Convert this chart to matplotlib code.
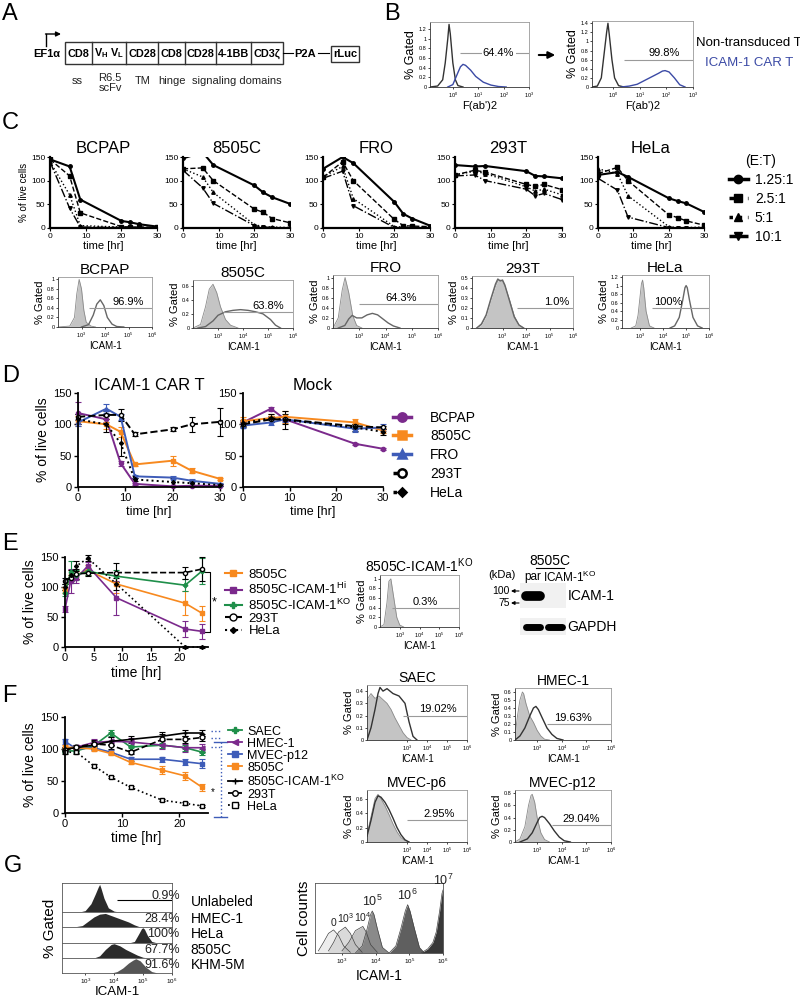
import numpy as np
import matplotlib
matplotlib.use('Agg')
import matplotlib.pyplot as plt
from matplotlib.lines import Line2D
from matplotlib.patches import Rectangle
from matplotlib.ticker import NullLocator

plt.rcParams['font.family'] = ['Liberation Sans', 'DejaVu Sans']
plt.rcParams['mathtext.default'] = 'regular'

PURPLE = '#7b2a8c'
ORANGE = '#f7891f'
BLUE = '#3e5cb8'
GREEN = '#1f8f4a'
CAR_BLUE = '#3b4aa5'
FILL = '#c4c4c4'

# ---------------- data ----------------
# A: construct
a_segments = ['CD8', 'V$_H$ V$_L$', 'CD28', 'CD8', 'CD28', '4-1BB', 'CD3ζ']
a_notes = ['ss', 'R6.5\nscFv', 'TM', 'hinge', 'signaling domains']

# B: F(ab')2 staining (log10 intensity, % gated)
b_pre_nt_x = [-0.9, -0.6, -0.4, -0.3, -0.2, -0.15, -0.1, 0.0, 0.1, 0.2, 0.4]
b_pre_nt_y = [0, 0.02, 0.15, 0.5, 1.0, 1.3, 1.1, 0.5, 0.15, 0.03, 0]
b_pre_car_x = [-0.2, 0.0, 0.2, 0.3, 0.4, 0.5, 0.7, 0.9, 1.2, 1.5, 1.8, 2.1]
b_pre_car_y = [0, 0.05, 0.3, 0.42, 0.47, 0.45, 0.35, 0.22, 0.1, 0.04, 0.01, 0]
b_post_nt_x = [-0.8, -0.6, -0.45, -0.35, -0.25, -0.2, -0.15, -0.05, 0.05, 0.2, 0.4]
b_post_nt_y = [0, 0.02, 0.2, 0.7, 1.2, 1.4, 1.15, 0.6, 0.2, 0.03, 0]
b_post_car_x = [0.3, 0.6, 0.9, 1.1, 1.3, 1.5, 1.7, 1.85, 1.95, 2.1, 2.3, 2.5, 2.7]
b_post_car_y = [0, 0.02, 0.06, 0.12, 0.18, 0.24, 0.3, 0.35, 0.36, 0.33, 0.2, 0.05, 0]
b_pct = ['64.4%', '99.8%']

# C: E:T titration killing
c_time = [0, 5.5, 8.5, 20, 22.5, 25, 30]
c_ratios = ['1.25:1', '2.5:1', '5:1', '10:1']
c_cells = ['BCPAP', '8505C', 'FRO', '293T', 'HeLa']
c_bcpap = [[145, 130, 60, 15, 12, 8, 3], [145, 110, 32, 3, 2, 2, 2],
           [140, 70, 5, 2, 1, 1, 1], [140, 42, 2, 1, 1, 0, 0]]
c_8505c = [[147, 160, 133, 90, 75, 65, 51], [125, 127, 100, 40, 33, 20, 11],
           [125, 108, 75, 7, 3, 2, 1], [122, 85, 52, 5, 2, 1, 0]]
c_fro = [[125, 150, 137, 55, 30, 20, 5], [107, 140, 100, 18, 5, 4, 3],
         [108, 130, 62, 3, 2, 2, 1], [105, 120, 47, 1, 1, 1, 0]]
c_293t = [[133, 130, 131, 120, 110, 109, 105], [112, 122, 118, 92, 88, 92, 81],
          [112, 120, 115, 87, 78, 82, 70], [110, 112, 100, 82, 68, 73, 60]]
c_hela = [[112, 118, 108, 63, 57, 52, 34], [115, 128, 100, 28, 22, 15, 6],
          [125, 115, 68, 3, 1, 1, 2], [105, 80, 23, 1, 0, 0, 1]]
c_kill = [c_bcpap, c_8505c, c_fro, c_293t, c_hela]

# C: ICAM-1 histograms (log10 x, % gated)
ch_pct = ['96.9%', '63.8%', '64.3%', '1.0%', '100%']
ch_ctrl_x = [[2.0, 2.5, 2.7, 2.8, 2.9, 3.0, 3.1, 3.2, 3.4, 3.6],
             [2.0, 2.3, 2.5, 2.65, 2.8, 2.95, 3.1, 3.3, 3.5, 3.8],
             [2.0, 2.2, 2.35, 2.46, 2.6, 2.75, 2.9, 3.1],
             [1.9, 2.1, 2.3, 2.5, 2.7, 2.8, 2.9, 3.0, 3.1, 3.3, 3.5, 3.7, 3.9],
             [2.6, 2.8, 2.9, 3.0, 3.05, 3.1, 3.15, 3.25, 3.4, 3.6]]
ch_ctrl_y = [[0, 0.02, 0.2, 0.7, 1.0, 0.8, 0.35, 0.1, 0.02, 0],
             [0, 0.05, 0.3, 0.55, 0.62, 0.5, 0.3, 0.12, 0.04, 0],
             [0, 0.2, 0.75, 1.0, 0.7, 0.25, 0.05, 0],
             [0, 0.03, 0.12, 0.28, 0.42, 0.47, 0.48, 0.47, 0.42, 0.28, 0.12, 0.03, 0],
             [0, 0.05, 0.3, 0.8, 1.05, 1.13, 0.95, 0.4, 0.05, 0]]
ch_stain_x = [[3.0, 3.3, 3.5, 3.65, 3.8, 3.95, 4.1, 4.3, 4.5, 4.8],
              [2.2, 2.5, 2.8, 3.0, 3.3, 3.6, 3.9, 4.2, 4.5, 4.8, 5.1, 5.3, 5.5],
              [2.2, 2.45, 2.6, 2.73, 2.9, 3.1, 3.3, 3.5, 3.7, 3.9, 4.1, 4.3, 4.55],
              [1.9, 2.1, 2.3, 2.5, 2.7, 2.8, 2.9, 3.0, 3.1, 3.3, 3.5, 3.7, 3.9],
              [4.3, 4.5, 4.7, 4.85, 4.95, 5.0, 5.05, 5.15, 5.3, 5.5, 5.7]]
ch_stain_y = [[0, 0.05, 0.25, 0.48, 0.57, 0.45, 0.2, 0.06, 0.01, 0],
              [0, 0.02, 0.1, 0.18, 0.23, 0.25, 0.26, 0.25, 0.23, 0.2, 0.12, 0.04, 0],
              [0, 0.05, 0.18, 0.25, 0.2, 0.2, 0.26, 0.29, 0.26, 0.18, 0.1, 0.04, 0],
              [0, 0.04, 0.13, 0.29, 0.44, 0.49, 0.47, 0.48, 0.43, 0.27, 0.11, 0.03, 0],
              [0, 0.05, 0.25, 0.65, 0.95, 1.0, 0.95, 0.65, 0.25, 0.05, 0]]
ch_gate = [0.4, 0.23, 0.47, 0.2, 0.47]

# D: killing by ICAM-1 CAR T vs mock
d_cells = ['BCPAP', '8505C', 'FRO', '293T', 'HeLa']
d_time_car = [0, 6, 9, 12, 20, 24, 30]
d_car = [[118, 108, 38, 5, 1, 2, 2], [105, 100, 88, 36, 42, 26, 13],
         [103, 125, 112, 17, 15, 10, 5], [112, 115, 115, 84, 92, 100, 104],
         [108, 100, 70, 12, 8, 6, 3]]
d_car_err = [[18, 5, 4, 2, 1, 1, 1], [8, 8, 8, 3, 8, 4, 2], [5, 7, 5, 2, 2, 2, 1],
             [5, 6, 10, 3, 3, 12, 22], [8, 13, 20, 3, 7, 3, 2]]
d_time_mock = [0, 6, 9, 24, 30]
d_mock = [[103, 125, 108, 69, 61], [105, 110, 112, 103, 90], [98, 103, 108, 93, 95],
          [100, 108, 108, 97, 95], [102, 110, 107, 95, 88]]
d_mock_err = [[3, 3, 3, 2, 2], [7, 7, 10, 5, 4], [4, 4, 5, 5, 5], [4, 5, 8, 4, 3], [5, 6, 15, 5, 5]]

# E: 8505C variants
e_time = [0, 1, 2, 4, 9, 21, 24]
e_lines = ['8505C', '8505C-ICAM-1$^{Hi}$', '8505C-ICAM-1$^{KO}$', '293T', 'HeLa']
e_vals = [[95, 120, 120, 128, 105, 73, 56], [63, 110, 115, 135, 82, 30, 26],
          [90, 125, 120, 126, 118, 103, 127], [110, 115, 122, 123, 124, 124, 130],
          [100, 120, 135, 148, 105, 0, 0]]
e_err = [[5, 8, 6, 8, 15, 20, 12], [5, 20, 8, 6, 28, 13, 13], [5, 18, 8, 6, 10, 10, 22],
         [5, 5, 8, 5, 16, 10, 20], [5, 8, 8, 5, 10, 1, 1]]
e_ko_x = [2.0, 2.2, 2.35, 2.45, 2.55, 2.7, 2.85, 3.0, 3.2]
e_ko_y = [0, 0.05, 0.5, 0.95, 1.0, 0.6, 0.2, 0.04, 0]
blot_lanes = ['par', 'ICAM-1$^{KO}$']
blot_icam1 = [1.0, 0.0]
blot_gapdh = [1.0, 1.0]

# F: normal endothelial / epithelial cells
f_time = [0, 2, 5, 8, 11.5, 17, 21, 24]
f_lines = ['SAEC', 'HMEC-1', 'MVEC-p12', '8505C', '8505C-ICAM-1$^{KO}$', '293T', 'HeLa']
f_vals = [[97, 97, 105, 125, 103, 106, 102, 95], [100, 103, 110, 112, 111, 106, 102, 102],
          [112, 100, 102, 95, 84, 84, 80, 77], [103, 102, 100, 93, 79, 67, 58, 40],
          [100, 102, 106, 112, 115, 120, 125, 125], [98, 103, 108, 106, 95, 115, 115, 118],
          [95, 95, 74, 56, 40, 20, 15, 11]]
f_err = [[4, 4, 4, 4, 4, 4, 5, 5], [3, 3, 5, 6, 6, 6, 6, 6], [4, 3, 3, 3, 3, 4, 5, 7],
         [3, 3, 3, 3, 3, 6, 6, 6], [3, 3, 6, 6, 6, 6, 5, 5], [3, 3, 6, 6, 3, 8, 6, 6],
         [3, 3, 2, 2, 2, 2, 2, 2]]
fh_names = ['SAEC', 'HMEC-1', 'MVEC-p6', 'MVEC-p12']
fh_pct = ['19.02%', '19.63%', '2.95%', '29.04%']
fh_gate = [0.2, 0.2, 0.3, 0.27]
fh_ctrl_x = [[1.0, 1.2, 1.4, 1.6, 1.8, 2.0, 2.2, 2.4, 2.6, 2.8, 3.0, 3.2],
             [2.1, 2.2, 2.3, 2.4, 2.45, 2.55, 2.7, 2.85, 3.0, 3.15, 3.3, 3.5],
             [1.0, 1.2, 1.4, 1.55, 1.7, 1.9, 2.1, 2.3, 2.5, 2.7, 2.9, 3.1],
             [2.1, 2.3, 2.5, 2.65, 2.75, 2.8, 2.9, 3.0, 3.15, 3.3, 3.5]]
fh_ctrl_y = [[0.33, 0.38, 0.34, 0.36, 0.33, 0.30, 0.25, 0.18, 0.12, 0.06, 0.02, 0],
             [0.05, 0.3, 0.5, 0.6, 0.58, 0.45, 0.3, 0.22, 0.12, 0.05, 0.01, 0],
             [0.1, 0.35, 0.6, 0.66, 0.6, 0.5, 0.38, 0.25, 0.14, 0.06, 0.02, 0],
             [0, 0.05, 0.25, 0.6, 0.76, 0.78, 0.65, 0.4, 0.15, 0.04, 0]]
fh_stain_x = [[1.0, 1.2, 1.4, 1.55, 1.65, 1.8, 2.0, 2.3, 2.6, 2.9, 3.1, 3.3, 3.5],
              [2.1, 2.3, 2.5, 2.7, 2.85, 2.95, 3.05, 3.2, 3.4, 3.6, 3.8, 4.05],
              [1.0, 1.2, 1.4, 1.55, 1.7, 1.9, 2.1, 2.3, 2.5, 2.7, 2.9, 3.1],
              [2.3, 2.6, 2.8, 3.0, 3.1, 3.2, 3.3, 3.5, 3.7, 3.9, 4.1, 4.35]]
fh_stain_y = [[0, 0.1, 0.25, 0.38, 0.43, 0.4, 0.42, 0.38, 0.36, 0.3, 0.15, 0.03, 0],
              [0, 0.05, 0.15, 0.3, 0.4, 0.42, 0.38, 0.28, 0.15, 0.07, 0.02, 0],
              [0.08, 0.3, 0.55, 0.64, 0.62, 0.55, 0.45, 0.33, 0.2, 0.1, 0.03, 0],
              [0, 0.05, 0.15, 0.32, 0.4, 0.42, 0.4, 0.3, 0.18, 0.08, 0.02, 0]]

# G: ICAM-1 levels and bead standards
g_rows = ['Unlabeled', 'HMEC-1', 'HeLa', '8505C', 'KHM-5M']
g_pct = ['0.9%', '28.4%', '100%', '67.7%', '91.6%']
g_x = [[2.8, 3.0, 3.2, 3.35, 3.45, 3.5, 3.55, 3.65, 3.8, 4.0, 4.2],
       [2.6, 2.9, 3.1, 3.3, 3.5, 3.7, 3.9, 4.1, 4.3, 4.5, 4.7, 4.9],
       [4.5, 4.7, 4.85, 4.95, 5.0, 5.05, 5.15, 5.3, 5.5],
       [3.3, 3.5, 3.7, 3.9, 4.0, 4.2, 4.4, 4.6, 4.8, 5.0, 5.2],
       [3.9, 4.1, 4.3, 4.5, 4.65, 4.75, 4.9, 5.1, 5.3, 5.5]]
g_y = [[0, 0.05, 0.3, 0.65, 0.9, 1.0, 0.85, 0.5, 0.15, 0.03, 0],
       [0, 0.1, 0.4, 0.7, 0.9, 0.95, 0.8, 0.65, 0.5, 0.35, 0.15, 0],
       [0, 0.1, 0.6, 0.95, 1.0, 0.9, 0.5, 0.1, 0],
       [0, 0.15, 0.6, 0.95, 1.0, 0.85, 0.6, 0.4, 0.2, 0.05, 0],
       [0, 0.1, 0.35, 0.7, 0.9, 1.0, 0.85, 0.4, 0.1, 0]]
bead_labels = ['0', '10$^3$', '10$^4$', '10$^5$', '10$^6$', '10$^7$']
bead_x = [[2.3, 2.45, 2.6, 2.75, 2.9, 3.05, 3.25],
          [2.6, 2.75, 2.9, 3.1, 3.25, 3.4, 3.6],
          [3.0, 3.2, 3.4, 3.62, 3.72, 3.85, 4.05],
          [3.4, 3.6, 3.75, 3.85, 3.9, 3.95, 4.05, 4.2, 4.4],
          [4.4, 4.6, 4.75, 4.88, 4.95, 5.02, 5.15, 5.3, 5.45],
          [5.35, 5.55, 5.7, 5.8, 5.9, 5.97, 6.0]]
bead_y = [[0.03, 0.15, 0.28, 0.33, 0.25, 0.1, 0.01],
          [0.03, 0.15, 0.3, 0.37, 0.28, 0.12, 0.01],
          [0.03, 0.15, 0.32, 0.38, 0.3, 0.12, 0.01],
          [0, 0.1, 0.35, 0.55, 0.6, 0.55, 0.35, 0.08, 0],
          [0, 0.1, 0.35, 0.6, 0.69, 0.6, 0.35, 0.08, 0],
          [0, 0.06, 0.15, 0.3, 0.6, 0.85, 0.9]]
bead_colors = ['#ececec', '#d6d6d6', '#bdbdbd', '#7d7d7d', '#4d4d4d', '#222222']

# ---------------- layout helpers ----------------
W, H = 800, 996
fig = plt.figure(figsize=(8, 9.96), dpi=100)
canvas = fig.add_axes([0, 0, 1, 1])
canvas.set_xlim(0, W)
canvas.set_ylim(H, 0)
canvas.axis('off')


def box(l, t, r, b):
    return fig.add_axes([l / W, 1 - b / H, (r - l) / W, (b - t) / H])


def px(x, y):
    return (x / W, 1 - y / H)


def flow_axes(rect, xlo, xhi, ymax, yticks, title=None, tsize=10, xlabel='ICAM-1', ylabel='% Gated', lsize=7):
    ax = box(*rect)
    ax.set_xscale('log')
    ax.set_xlim(10 ** xlo, 10 ** xhi)
    ax.set_ylim(0, ymax)
    ax.xaxis.set_minor_locator(NullLocator())
    ax.set_yticks(yticks)
    ax.set_yticklabels([f'{v:g}' for v in yticks])
    ax.tick_params(labelsize=4, length=1.5, width=0.5, pad=1)
    for s in ax.spines.values():
        s.set_color('#999999')
        s.set_linewidth(0.6)
    ax.spines['left'].set_color('#333333')
    ax.spines['bottom'].set_color('#333333')
    if title:
        ax.set_title(title, fontsize=tsize, pad=2)
    if xlabel:
        ax.set_xlabel(xlabel, fontsize=lsize, labelpad=1)
    if ylabel:
        ax.set_ylabel(ylabel, fontsize=lsize + 1, labelpad=1)
    return ax


def draw_hist(ax, x, y, filled, color='#444444'):
    xs = 10 ** np.asarray(x)
    if filled:
        ax.fill_between(xs, y, color=FILL, lw=0)
        ax.plot(xs, y, color='#8a8a8a', lw=0.6)
    else:
        ax.plot(xs, y, color=color, lw=1.0)


def gate(ax, level, x0, x1, label, lx, size=8, inline=False):
    ax.hlines(level, 10 ** x0, 10 ** x1, color='#9a9a9a', lw=0.8)
    if inline:
        ax.text(10 ** lx, level, label, fontsize=size, ha='center', va='center',
                bbox=dict(fc='white', ec='none', pad=1))
    else:
        ax.text(10 ** lx, level + 0.02 * ax.get_ylim()[1], label, fontsize=size, ha='center', va='bottom')


def time_axes(rect, xlim, xticks, fs=8):
    ax = box(*rect)
    ax.set_xlim(*xlim)
    ax.set_ylim(0, 150)
    ax.spines[['top', 'right']].set_visible(False)
    ax.spines[['left', 'bottom']].set_linewidth(1.3)
    ax.set_xticks(xticks)
    ax.set_yticks([0, 50, 100, 150])
    ax.tick_params(labelsize=fs, width=1, length=3, pad=1.5)
    return ax


def letter(ch, x, y):
    canvas.text(x, y, ch, fontsize=17, ha='left', va='center')


# ---------------- A ----------------
letter('A', 2, 14)
a_edges = [65, 92, 126, 158, 185, 216, 251, 283]
canvas.add_patch(Rectangle((65, 42), 218, 22, fill=False, lw=1.0, ec='#333'))
for i, name in enumerate(a_segments):
    if i > 0:
        canvas.plot([a_edges[i]] * 2, [42, 64], color='#333', lw=1.0)
    canvas.text((a_edges[i] + a_edges[i + 1]) / 2, 53.5, name, fontsize=7.8, fontweight='bold',
                ha='center', va='center')
canvas.plot([46, 46], [46, 34], color='k', lw=1.0)
canvas.annotate('', xy=(61, 34), xytext=(45.5, 34),
                arrowprops=dict(arrowstyle='-|>', lw=1.0, color='k', mutation_scale=7, shrinkA=0, shrinkB=0))
canvas.text(47, 54, 'EF1α', fontsize=8, fontweight='bold', ha='center', va='center')
canvas.plot([283, 293], [53, 53], color='k', lw=0.8)
canvas.text(305, 53.5, 'P2A', fontsize=8, fontweight='bold', ha='center', va='center')
canvas.plot([318, 329], [53, 53], color='k', lw=0.8)
canvas.add_patch(Rectangle((331, 46), 28, 16, fill=False, lw=1.0, ec='#333'))
canvas.text(345, 54, 'rLuc', fontsize=8, fontweight='bold', ha='center', va='center')
for note, xc in zip(a_notes, [77, 110, 143, 172, 237]):
    canvas.text(xc, 83 if '\n' in note else 81, note, fontsize=8, ha='center', va='center',
                linespacing=1.0, color='#222')

# ---------------- B ----------------
letter('B', 384, 14)
axb1 = flow_axes((430, 22, 529, 87), -0.9, 3, 1.35, [0, 0.2, 0.4, 0.6, 0.8, 1.0, 1.2],
                 xlabel="F(ab')2", lsize=8)
axb1.plot(10 ** np.asarray(b_pre_nt_x), b_pre_nt_y, color='#333', lw=1.0)
axb1.plot(10 ** np.asarray(b_pre_car_x), b_pre_car_y, color=CAR_BLUE, lw=1.0)
gate(axb1, 0.7, 0.3, 3, b_pct[0], 1.8, size=8, inline=True)
axb2 = flow_axes((592, 21, 693, 87), -0.8, 3, 1.45, [0, 0.2, 0.4, 0.6, 0.8, 1.0, 1.2, 1.4],
                 xlabel="F(ab')2", lsize=8)
axb2.plot(10 ** np.asarray(b_post_nt_x), b_post_nt_y, color='#333', lw=1.0)
axb2.plot(10 ** np.asarray(b_post_car_x), b_post_car_y, color=CAR_BLUE, lw=1.0)
gate(axb2, 0.6, 0.4, 3, b_pct[1], 1.9, size=8)
canvas.annotate('', xy=(558, 55), xytext=(536, 55),
                arrowprops=dict(arrowstyle='-|>', lw=1.5, color='k', mutation_scale=10))
canvas.text(696, 43, 'Non-transduced T', fontsize=9.5, ha='left', va='center')
canvas.text(705, 63, 'ICAM-1 CAR T', fontsize=9.5, ha='left', va='center', color=CAR_BLUE)

# ---------------- C ----------------
letter('C', 2, 123)
c_rects = [(50, 157, 157, 228), (183, 157, 290, 228), (323, 157, 430, 228),
           (455, 157, 562, 228), (598, 157, 704, 228)]
c_styles = ['-', '--', ':', '-.']
c_markers = ['o', 's', '^', 'v']
for k, (name, rect) in enumerate(zip(c_cells, c_rects)):
    ax = time_axes(rect, (0, 30), [0, 10, 20, 30], fs=6)
    ax.tick_params(length=2, width=0.8)
    ax.spines[['left', 'bottom']].set_linewidth(1.6)
    for j in range(4):
        ax.plot(c_time, c_kill[k][j], color='k', ls=c_styles[j], marker=c_markers[j], ms=2.5,
                lw=1.5 if j == 0 else 1.0)
    ax.set_title(name, fontsize=12, pad=3)
    ax.set_xlabel('time [hr]', fontsize=8, labelpad=1)
    if k == 0:
        ax.set_ylabel('% of live cells', fontsize=7, labelpad=1)
c_handles = [Line2D([], [], color='k', ls=c_styles[j], marker=c_markers[j], ms=6, lw=2.5)
             for j in range(4)]
fig.legend(c_handles, c_ratios, title='(E:T)', loc='upper left', bbox_to_anchor=px(716, 142),
           frameon=False, fontsize=10, title_fontsize=10, handlelength=1.4, labelspacing=0.35,
           handletextpad=0.5)

ch_rects = [(58, 277, 152, 327), (193, 280, 293, 328), (333, 275, 438, 328),
            (472, 276, 573, 328), (622, 275, 709, 328)]
ch_xlo = [2.0, 2.0, 2.0, 1.7, 2.2]
ch_ymax = [1.05, 0.68, 1.05, 0.52, 1.25]
ch_yticks = [[0, 0.2, 0.4, 0.6, 0.8, 1.0], [0, 0.2, 0.4, 0.6], [0, 0.2, 0.4, 0.6, 0.8, 1.0],
             [0, 0.1, 0.2, 0.3, 0.4, 0.5], [0, 0.2, 0.4, 0.6, 0.8, 1.0, 1.2]]
ch_gate_from = [3.3, 3.2, 3.0, 3.6, 3.5]
ch_label_x = [5.0, 5.0, 4.6, 5.3, 4.2]
for k, name in enumerate(c_cells):
    ax = flow_axes(ch_rects[k], ch_xlo[k], 6, ch_ymax[k], ch_yticks[k], title=name, tsize=11)
    ax.set_xticks([1e3, 1e4, 1e5, 1e6])
    draw_hist(ax, ch_ctrl_x[k], ch_ctrl_y[k], True)
    draw_hist(ax, ch_stain_x[k], ch_stain_y[k], False, color='#666')
    gate(ax, ch_gate[k], ch_gate_from[k], 6, ch_pct[k], ch_label_x[k], size=8)

# ---------------- D ----------------
letter('D', 2, 376)
d_colors = [PURPLE, ORANGE, BLUE, 'k', 'k']
d_ls = ['-', '-', '-', '--', ':']
d_mk = ['o', 's', '^', 'o', 'D']
d_mfc = [PURPLE, ORANGE, BLUE, 'white', 'k']
for title, rect, t, vals, errs in [('ICAM-1 CAR T', (78, 393, 220, 487), d_time_car, d_car, d_car_err),
                                   ('Mock', (243, 393, 383, 487), d_time_mock, d_mock, d_mock_err)]:
    ax = time_axes(rect, (0, 30), [0, 10, 20, 30], fs=8)
    for i in range(5):
        ax.errorbar(t, vals[i], yerr=errs[i], color=d_colors[i], ls=d_ls[i], marker=d_mk[i],
                    ms=3 if d_mk[i] != 'D' else 2, mfc=d_mfc[i], mec=d_colors[i], lw=1.4,
                    capsize=2, elinewidth=0.8, capthick=0.8, clip_on=False)
    ax.set_title(title, fontsize=12, pad=2)
    ax.set_xlabel('time [hr]', fontsize=9, labelpad=2)
    if title != 'Mock':
        ax.set_ylabel('% of live cells', fontsize=10, labelpad=2)
d_handles = [Line2D([], [], color=d_colors[i], ls=d_ls[i], marker=d_mk[i], ms=6 if d_mk[i] != 'D' else 4,
                    mfc=d_mfc[i], mec=d_colors[i], mew=1.8, lw=2.5) for i in range(5)]
fig.legend(d_handles, d_cells, loc='upper left', bbox_to_anchor=px(380, 398), frameon=False,
           fontsize=10, handlelength=1.3, labelspacing=0.35, handletextpad=1.4)

# ---------------- E ----------------
letter('E', 2, 544)
e_colors = [ORANGE, PURPLE, GREEN, 'k', 'k']
e_ls = ['-', '-', '-', '--', ':']
e_mk = ['s', 's', 'P', 'o', 'D']
e_mfc = [ORANGE, PURPLE, GREEN, 'white', 'k']
ax = time_axes((65, 557, 208, 647), (0, 25), [0, 5, 10, 15, 20], fs=8)
for i in range(5):
    ax.errorbar(e_time, e_vals[i], yerr=e_err[i], color=e_colors[i], ls=e_ls[i], marker=e_mk[i],
                ms=3 if e_mk[i] != 'D' else 2, mfc=e_mfc[i], mec=e_colors[i], lw=1.2,
                capsize=2, elinewidth=0.8, capthick=0.8, clip_on=False)
ax.plot([23.8, 25.3, 25.3, 23.8], [125, 125, 25, 25], color='k', lw=0.8, clip_on=False)
ax.text(26.0, 75, '*', fontsize=9, ha='center', va='center')
ax.set_xlabel('time [hr]', fontsize=10, labelpad=2)
ax.set_ylabel('% of live cells', fontsize=10, labelpad=2)
e_handles = [Line2D([], [], color=e_colors[i], ls=e_ls[i], marker=e_mk[i], ms=5 if e_mk[i] != 'D' else 3,
                    mfc=e_mfc[i], mec=e_colors[i], lw=1.5) for i in range(5)]
fig.legend(e_handles, e_lines, loc='upper left', bbox_to_anchor=px(222, 566), frameon=False,
           fontsize=9.5, handlelength=1.3, labelspacing=0.0, handletextpad=0.5,
           borderaxespad=0, borderpad=0.2)

ax = flow_axes((380, 575, 459, 627), 2.0, 6, 1.08, [0, 0.2, 0.4, 0.6, 0.8, 1.0],
               title='8505C-ICAM-1$^{KO}$', tsize=10)
ax.set_xticks([1e3, 1e4, 1e5, 1e6])
draw_hist(ax, e_ko_x, e_ko_y, True)
gate(ax, 0.4, 2.6, 6, '0.3%', 4.3, size=8)

# western blot
canvas.text(550, 561, '8505C', fontsize=10, ha='center', va='center')
canvas.plot([536, 564], [568, 568], color='k', lw=0.8)
canvas.text(502, 575, '(kDa)', fontsize=8, ha='center', va='center')
lane_x = [533, 555]
for lx, lab in zip(lane_x, blot_lanes):
    canvas.text(lx if lab == 'par' else lx + 15, 577, lab, fontsize=8.5, ha='center', va='center')
canvas.add_patch(Rectangle((520, 583), 46, 25, fc='#f1f1f1', ec='none'))
canvas.add_patch(Rectangle((520, 618), 46, 17, fc='#f1f1f1', ec='none'))
for lx, sig in zip(lane_x, blot_icam1):
    if sig > 0:
        canvas.plot([lx - 7, lx + 7], [596, 596], color='k', lw=7 * sig, solid_capstyle='round')
for lx, sig in zip(lane_x, blot_gapdh):
    if sig > 0:
        canvas.plot([lx - 7, lx + 7], [627, 627], color='k', lw=5 * sig, solid_capstyle='round')
canvas.text(510, 591, '100', fontsize=7.5, ha='right', va='center')
canvas.text(510, 603, '75', fontsize=7.5, ha='right', va='center')
for yy in (591, 603):
    canvas.annotate('', xy=(511, yy), xytext=(519, yy),
                    arrowprops=dict(arrowstyle='-|>', lw=0.8, color='k', mutation_scale=5, shrinkA=0, shrinkB=0))
canvas.text(568, 596, 'ICAM-1', fontsize=10, ha='left', va='center')
canvas.text(567, 627, 'GAPDH', fontsize=10, ha='left', va='center')

# ---------------- F ----------------
letter('F', 2, 696)
f_colors = [GREEN, PURPLE, BLUE, ORANGE, 'k', 'k', 'k']
f_ls = ['-', '-', '-', '-', '-', '--', ':']
f_mk = ['P', '<', 's', 's', '+', 'o', 's']
f_mfc = [GREEN, PURPLE, BLUE, ORANGE, 'k', 'white', 'white']
ax = time_axes((65, 717, 208, 813), (0, 25), [0, 10, 20], fs=8)
for i in range(7):
    ax.errorbar(f_time, f_vals[i], yerr=f_err[i], color=f_colors[i], ls=f_ls[i], marker=f_mk[i],
                ms=3.5, mfc=f_mfc[i], mec=f_colors[i], lw=1.2, capsize=2, elinewidth=0.8,
                capthick=0.8, clip_on=False)
for yy in (128, 117, 103):
    ax.plot([25.6, 27.3], [yy, yy], color=BLUE, ls=':', lw=1.0, clip_on=False)
ax.plot([27.3, 27.3], [111, -6], color=BLUE, ls=':', lw=1.0, clip_on=False)
ax.plot([26.0, 28.3], [111, 111], color=BLUE, lw=1.0, clip_on=False)
ax.plot([26.0, 28.3], [-6, -6], color=BLUE, lw=1.0, clip_on=False)
ax.text(25.8, 33, '*', fontsize=7, ha='center', va='center')
ax.set_xlabel('time [hr]', fontsize=10, labelpad=1)
ax.set_ylabel('% of live cells', fontsize=10, labelpad=2)
f_handles = [Line2D([], [], color=f_colors[i], ls=f_ls[i], marker=f_mk[i], ms=4, mfc=f_mfc[i],
                    mec=f_colors[i], lw=1.3) for i in range(7)]
fig.legend(f_handles, f_lines, loc='upper left', bbox_to_anchor=px(226, 723), frameon=False,
           fontsize=9, handlelength=1.1, labelspacing=0.0, handletextpad=0.4,
           borderaxespad=0, borderpad=0.2)

fh_rects = [(367, 685, 467, 740), (515, 688, 611, 740), (367, 790, 467, 842), (515, 790, 611, 842)]
fh_xlo = [1.0, 2.1, 1.0, 2.1]
fh_ymax = [0.45, 0.65, 0.72, 0.85]
fh_yticks = [[0, 0.1, 0.2, 0.3, 0.4], [0, 0.1, 0.2, 0.3, 0.4, 0.5, 0.6], [0, 0.2, 0.4, 0.6],
             [0, 0.2, 0.4, 0.6, 0.8]]
fh_gate_from = [2.8, 3.4, 3.0, 3.6]
fh_label_x = [4.55, 4.45, 4.6, 4.8]
for k, name in enumerate(fh_names):
    ax = flow_axes(fh_rects[k], fh_xlo[k], 6, fh_ymax[k], fh_yticks[k], title=name, tsize=10)
    ax.set_xticks([1e3, 1e4, 1e5, 1e6])
    draw_hist(ax, fh_ctrl_x[k], fh_ctrl_y[k], True)
    draw_hist(ax, fh_stain_x[k], fh_stain_y[k], False, color='#333')
    gate(ax, fh_gate[k], fh_gate_from[k], 6, fh_pct[k], fh_label_x[k], size=8)

# ---------------- G ----------------
letter('G', 4, 866)
g_bounds = [(883, 912), (912, 927), (927, 943), (943, 958), (958, 973)]
g_fill = ['#2b2b2b', '#2b2b2b', '#2b2b2b', '#2b2b2b', '#555555']
for i, (top, bot) in enumerate(g_bounds):
    ax = box(62, top, 172, bot)
    ax.set_xscale('log')
    ax.set_xlim(10 ** 2.2, 1e6)
    ax.set_ylim(0, 1.05)
    ax.xaxis.set_minor_locator(NullLocator())
    ax.set_yticks([])
    ax.fill_between(10 ** np.asarray(g_x[i]), g_y[i], color=g_fill[i], lw=0)
    for s in ax.spines.values():
        s.set_linewidth(0.6)
        s.set_color('#555')
    if i < 4:
        ax.set_xticks([])
    else:
        ax.set_xticks([1e3, 1e4, 1e5, 1e6])
        ax.tick_params(labelsize=4.5, length=1.5, width=0.5, pad=1)
        ax.set_xlabel('ICAM-1', fontsize=9.5, labelpad=0)
    if i == 0:
        ax.hlines(0.42, 10 ** 4.1, 1e6, color='k', lw=0.8)
        ax.text(1.07, 0.55, g_pct[i], transform=ax.transAxes, fontsize=9, ha='right', va='center', color='#222')
        ax.text(1.17, 0.35, g_rows[i], transform=ax.transAxes, fontsize=10, ha='left', va='center')
    else:
        ax.text(1.07, 0.55, g_pct[i], transform=ax.transAxes, fontsize=9, ha='right', va='center', color='#222')
        ax.text(1.17, 0.55, g_rows[i], transform=ax.transAxes, fontsize=10, ha='left', va='center')
canvas.text(50, 928, '% Gated', fontsize=11, rotation=90, ha='center', va='center')

ax = box(315, 883, 443, 953)
ax.set_xscale('log')
ax.set_xlim(10 ** 2.2, 1e6)
ax.set_ylim(0, 1.0)
ax.xaxis.set_minor_locator(NullLocator())
ax.set_xticks([1e3, 1e4, 1e5, 1e6])
ax.set_yticks([])
ax.tick_params(labelsize=4.5, length=1.5, width=0.5, pad=1)
for s in ax.spines.values():
    s.set_linewidth(0.6)
    s.set_color('#555')
for i in range(6):
    xs = 10 ** np.asarray(bead_x[i])
    ax.fill_between(xs, bead_y[i], color=bead_colors[i], lw=0, alpha=0.9)
    ax.plot(xs, bead_y[i], color='#444', lw=0.5)
    peak = int(np.argmax(bead_y[i]))
    ax.text(xs[peak], bead_y[i][peak] + 0.03, bead_labels[i], fontsize=7.5 if i < 3 else 9,
            ha='center', va='bottom', color='#222')
ax.set_xlabel('ICAM-1', fontsize=10, labelpad=2)
ax.set_ylabel('Cell counts', fontsize=11, labelpad=3)

fig.savefig('out.png', dpi=100)
